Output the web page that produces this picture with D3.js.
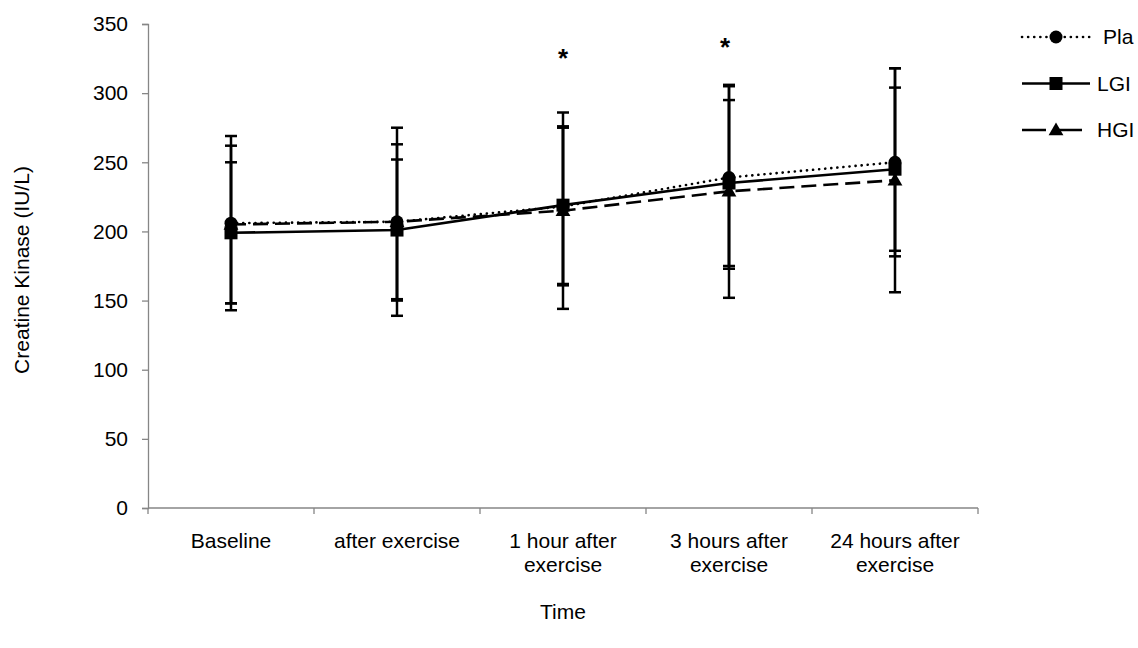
<!DOCTYPE html>
<html>
<head>
<meta charset="utf-8">
<script src="https://cdn.jsdelivr.net/npm/d3@7"></script>
<style>
  body { margin: 0; background: #fff; }
  svg text { font-family: "Liberation Sans", Arial, sans-serif; fill: #000; }
</style>
</head>
<body>
<div id="chart"></div>
<script>
var categories = ["Baseline", "after exercise", "1 hour after exercise", "3 hours after exercise", "24 hours after exercise"];
var categoryLines = [["Baseline"], ["after exercise"], ["1 hour after", "exercise"], ["3 hours after", "exercise"], ["24 hours after", "exercise"]];
var plaMean = [206, 207, 218, 239, 250];
var plaSD   = [63, 68, 57, 66, 68];
var lgiMean = [199, 201, 219, 235, 245];
var lgiSD   = [51, 51, 57, 60, 59];
var hgiMean = [205, 207, 215, 229, 237];
var hgiSD   = [57, 56, 71, 77, 81];
var yTicks = [0, 50, 100, 150, 200, 250, 300, 350];
var starCats = [2, 3];
var starValues = [330, 338];

var series = [
  {name: "Pla", mean: plaMean, sd: plaSD, dash: "0.1 6", marker: "circle"},
  {name: "LGI", mean: lgiMean, sd: lgiSD, dash: null, marker: "square"},
  {name: "HGI", mean: hgiMean, sd: hgiSD, dash: "15 7", marker: "triangle"}
];

var W = 1138, H = 648;
var FS = "21px";

var svg = d3.select("#chart").append("svg")
  .attr("width", W).attr("height", H);

var x = d3.scaleBand().domain(categories).range([148, 978]);
var y = d3.scaleLinear().domain([0, 350]).range([508, 24]);
var cx = function(i) { return x(categories[i]) + x.bandwidth() / 2; };

// y axis
var yAxis = svg.append("g").attr("transform", "translate(148,0)")
  .call(d3.axisLeft(y).tickValues(yTicks).tickSize(6).tickPadding(6));
yAxis.select(".domain").attr("stroke", "#868686").attr("stroke-width", 1.3);
yAxis.selectAll(".tick line").attr("stroke", "#868686").attr("stroke-width", 1.3);
yAxis.selectAll(".tick text").style("font-size", FS).attr("x", -20);

// x axis
var xAxis = svg.append("g").attr("transform", "translate(0,508)");
xAxis.append("line").attr("x1", 148).attr("x2", 978).attr("y1", 0).attr("y2", 0)
  .attr("stroke", "#868686").attr("stroke-width", 1.3);
xAxis.selectAll("line.tk").data(d3.range(categories.length + 1)).enter().append("line")
  .attr("class", "tk")
  .attr("x1", function(d) { return 148 + d * x.bandwidth(); })
  .attr("x2", function(d) { return 148 + d * x.bandwidth(); })
  .attr("y1", 0).attr("y2", 6)
  .attr("stroke", "#868686").attr("stroke-width", 1.3);
xAxis.selectAll("text.cat").data(categoryLines).enter().append("text")
  .attr("class", "cat")
  .attr("text-anchor", "middle")
  .style("font-size", FS)
  .attr("transform", function(d, i) { return "translate(" + cx(i) + ",40)"; })
  .each(function(lines) {
    var t = d3.select(this);
    lines.forEach(function(l, k) {
      t.append("tspan").attr("x", 0).attr("dy", k === 0 ? 0 : 24).text(l);
    });
  });

// axis titles
svg.append("text").attr("x", 563).attr("y", 619).attr("text-anchor", "middle")
  .style("font-size", FS).text("Time");
svg.append("text").attr("transform", "translate(29,270) rotate(-90)")
  .attr("text-anchor", "middle").style("font-size", FS).text("Creatine Kinase (IU/L)");

// error bars
series.forEach(function(s) {
  var g = svg.append("g");
  s.mean.forEach(function(m, i) {
    var hi = y(m + s.sd[i]), lo = y(m - s.sd[i]), xc = cx(i);
    g.append("line").attr("x1", xc).attr("x2", xc).attr("y1", hi).attr("y2", lo)
      .attr("stroke", "#000").attr("stroke-width", 2.5);
    [hi, lo].forEach(function(yy) {
      g.append("line").attr("x1", xc - 6).attr("x2", xc + 6).attr("y1", yy).attr("y2", yy)
        .attr("stroke", "#000").attr("stroke-width", 2.5);
    });
  });
});

// lines
var line = d3.line().x(function(d, i) { return cx(i); }).y(function(d) { return y(d); });
series.forEach(function(s) {
  svg.append("path").datum(s.mean).attr("d", line)
    .attr("fill", "none").attr("stroke", "#000").attr("stroke-width", 2.6)
    .attr("stroke-linecap", s.marker === "circle" ? "round" : "butt")
    .attr("stroke-dasharray", s.dash);
});

function marker(g, type, px, py) {
  if (type === "circle") {
    g.append("circle").attr("cx", px).attr("cy", py).attr("r", 6.5).attr("fill", "#000");
  } else if (type === "square") {
    g.append("rect").attr("x", px - 6.5).attr("y", py - 6.5).attr("width", 13).attr("height", 13).attr("fill", "#000");
  } else {
    g.append("path").attr("d", d3.symbol().type(d3.symbolTriangle).size(95)())
      .attr("transform", "translate(" + px + "," + (py + 1) + ")").attr("fill", "#000");
  }
}

// markers
series.forEach(function(s) {
  var g = svg.append("g");
  s.mean.forEach(function(m, i) { marker(g, s.marker, cx(i), y(m)); });
});

// significance stars
svg.selectAll("text.star").data(starCats).enter().append("text")
  .attr("class", "star")
  .attr("x", function(d) { return cx(d) - (d === 3 ? 4 : 0); })
  .attr("y", function(d, i) { return y(starValues[i]) + 15; })
  .attr("text-anchor", "middle").style("font-size", "26px").style("font-weight", "bold")
  .text("*");

// legend
var leg = svg.append("g");
series.forEach(function(s, i) {
  var ly = 37 + i * 46.5;
  var x2 = s.marker === "triangle" ? 1082 : 1090;
  leg.append("line").attr("x1", 1022).attr("x2", x2).attr("y1", ly).attr("y2", ly)
    .attr("stroke", "#000").attr("stroke-width", 2.6)
    .attr("stroke-linecap", s.marker === "circle" ? "round" : "butt")
    .attr("stroke-dasharray", s.marker === "circle" ? "0.1 6" : (s.marker === "triangle" ? "24 12" : null));
  marker(leg, s.marker, 1056, ly);
  leg.append("text").attr("x", s.marker === "circle" ? 1103 : 1097).attr("y", ly + 7)
    .style("font-size", FS).text(s.name);
});
</script>
</body>
</html>
